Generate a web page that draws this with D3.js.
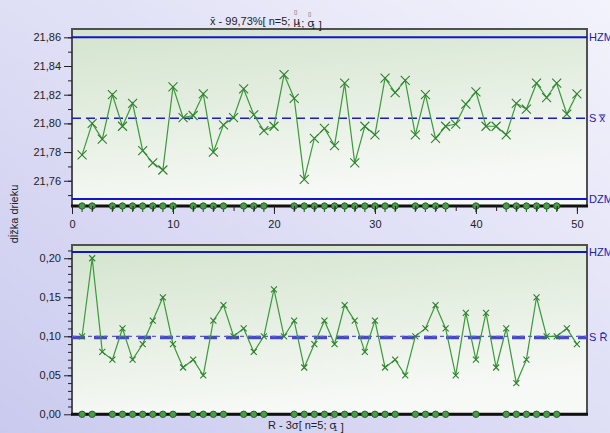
<!DOCTYPE html>
<html>

<head>
  <meta charset="utf8">
  <script src="https://d3js.org/d3.v7.min.js"></script>
  <style>
    body { margin: 0; }
    text { font-family: "Liberation Sans", Arial, sans-serif; }
    .axis text { fill: #222; font-size: 11px; }
    .axis path { display: none; }
    .axis line { stroke: #222; }
  </style>
</head>

<body>
  <svg id="chart" width="610" height="433"></svg>
  <script>
    // sample means (x-bar chart)
    var xbar = [21.778, 21.800, 21.789, 21.820, 21.798, 21.814, 21.781, 21.7725, 21.7675, 21.8255,
      21.804, 21.8055, 21.8205, 21.780, 21.799, 21.804, 21.824, 21.806, 21.795, 21.798,
      21.834, 21.8175, 21.761, 21.7895, 21.7965, 21.7845, 21.828, 21.7725, 21.798, 21.792,
      21.8315, 21.8215, 21.830, 21.792, 21.820, 21.7895, 21.798, 21.7995, 21.8135, 21.822,
      21.798, 21.798, 21.792, 21.814, 21.810, 21.828, 21.818, 21.828, 21.8065, 21.8205];
    // sample ranges (R chart)
    var range = [0.10, 0.20, 0.08, 0.07, 0.11, 0.07, 0.09, 0.12, 0.15, 0.09,
      0.06, 0.07, 0.05, 0.12, 0.14, 0.10, 0.11, 0.08, 0.10, 0.16,
      0.10, 0.12, 0.06, 0.09, 0.12, 0.09, 0.14, 0.12, 0.08, 0.12,
      0.06, 0.07, 0.05, 0.10, 0.11, 0.14, 0.11, 0.05, 0.13, 0.07,
      0.13, 0.06, 0.11, 0.04, 0.07, 0.15, 0.10, 0.10, 0.11, 0.09];
    // samples flagged with a dot on the axis
    var flagged = [1, 2, 4, 5, 6, 7, 8, 9, 10, 12, 13, 14, 15, 17, 18, 19, 22, 23, 24, 25,
      26, 27, 28, 29, 30, 31, 32, 34, 35, 36, 37, 40, 43, 44, 45, 46, 47, 48];
    // control limits
    var xbarLimits = { hzm: 21.860, s: 21.8035, dzm: 21.7472 };
    var rLimits = { hzm: 0.208, s: 0.0985, sDot: 0.100 };
    var xbarTicks = [21.76, 21.78, 21.80, 21.82, 21.84, 21.86];
    var rTicks = [0.00, 0.05, 0.10, 0.15, 0.20];
    var xTicks = [0, 10, 20, 30, 40, 50];

    var chart = d3.select('#chart');
    var left = 72, right = 587;
    var fmt = d3.formatLocale({ decimal: ',', thousands: ' ', grouping: [3], currency: ['', ''] }).format('.2f');

    var defs = chart.append('defs');
    var bg = defs.append('linearGradient').attr('id', 'bg')
      .attr('x1', 0).attr('y1', 1).attr('x2', 1).attr('y2', 0);
    bg.append('stop').attr('offset', 0).attr('stop-color', '#cacaef');
    bg.append('stop').attr('offset', 1).attr('stop-color', '#f3f3fc');
    var pg = defs.append('linearGradient').attr('id', 'plotbg')
      .attr('x1', 0).attr('y1', 0).attr('x2', 0.3).attr('y2', 1);
    pg.append('stop').attr('offset', 0).attr('stop-color', '#d3e4cd');
    pg.append('stop').attr('offset', 1).attr('stop-color', '#f7f9f6');

    chart.append('rect').attr('width', 610).attr('height', 433).attr('fill', 'url(#bg)');

    var x = d3.scaleLinear().domain([0, 51]).range([left, right]);

    function panel(opts) {
      var y = d3.scaleLinear().domain(opts.domain).range([opts.bottom, opts.top]);
      var g = chart.append('g');

      g.append('rect')
        .attr('x', left).attr('y', opts.top)
        .attr('width', right - left).attr('height', opts.bottom - opts.top)
        .attr('fill', 'url(#plotbg)')
        .attr('stroke', '#505050').attr('stroke-width', 2);

      // minor y ticks
      g.append('g').attr('class', 'axis')
        .attr('transform', 'translate(' + left + ',0)')
        .call(d3.axisLeft(y).tickValues(d3.range(opts.minorFrom, opts.domain[1], opts.minorStep)).tickSize(4).tickFormat(''));
      g.append('g').attr('class', 'axis')
        .attr('transform', 'translate(' + left + ',0)')
        .call(d3.axisLeft(y).tickValues(opts.ticks).tickSize(8).tickPadding(3).tickFormat(fmt));

      // control limits
      g.append('line').attr('x1', left).attr('x2', right)
        .attr('y1', y(opts.limits.hzm)).attr('y2', y(opts.limits.hzm))
        .attr('stroke', '#1414c8').attr('stroke-width', 2);
      if (opts.limits.dzm !== undefined) {
        g.append('line').attr('x1', left).attr('x2', right)
          .attr('y1', y(opts.limits.dzm)).attr('y2', y(opts.limits.dzm))
          .attr('stroke', '#1414c8').attr('stroke-width', 2);
      }
      if (opts.limits.sDot !== undefined) {
        g.append('line').attr('x1', left).attr('x2', right)
          .attr('y1', y(opts.limits.s)).attr('y2', y(opts.limits.s))
          .attr('stroke', '#4848c0').attr('stroke-width', 3.5).attr('stroke-dasharray', '13,9');
        g.append('line').attr('x1', left).attr('x2', right)
          .attr('y1', y(opts.limits.sDot)).attr('y2', y(opts.limits.sDot))
          .attr('stroke', '#5a5ae0').attr('stroke-width', 1.2).attr('stroke-dasharray', '4,4');
      } else {
        g.append('line').attr('x1', left).attr('x2', right)
          .attr('y1', y(opts.limits.s)).attr('y2', y(opts.limits.s))
          .attr('stroke', '#1c1cc0').attr('stroke-width', 1.5).attr('stroke-dasharray', '9,5');
      }

      // bottom axis line
      g.append('line').attr('x1', left - 1).attr('x2', right + 1)
        .attr('y1', opts.bottom).attr('y2', opts.bottom)
        .attr('stroke', '#111').attr('stroke-width', 3);

      // series
      var pts = opts.values.map((v, i) => [i + 1, v]);
      g.append('path').datum(pts)
        .attr('fill', 'none').attr('stroke', '#3a9a3a').attr('stroke-width', 1.2)
        .attr('d', d3.line().x((d) => x(d[0])).y((d) => y(d[1])));
      var s = opts.cross;
      g.selectAll('.mk').data(pts).enter().append('path')
        .attr('class', 'mk')
        .attr('transform', (d) => 'translate(' + x(d[0]) + ',' + y(d[1]) + ')')
        .attr('d', 'M' + -s + ',' + -s + 'L' + s + ',' + s + 'M' + -s + ',' + s + 'L' + s + ',' + -s)
        .attr('stroke', '#2f7f2f').attr('stroke-width', 1.1);

      // flagged samples on the axis
      var dots = g.selectAll('.dot').data(flagged).enter().append('g')
        .attr('transform', (d) => 'translate(' + x(d) + ',' + opts.bottom + ')');
      if (opts.stems) {
        dots.append('line').attr('y1', 0).attr('y2', 6).attr('stroke', '#2a6a2a').attr('stroke-width', 1.2);
      }
      dots.append('circle').attr('r', 3.2)
        .attr('fill', '#4a9c4a').attr('stroke', '#256325').attr('stroke-width', 1);

      // right labels
      var lab = g.append('g').attr('fill', '#2020b8').style('font-size', '11px');
      lab.append('text').attr('x', right + 2).attr('y', y(opts.limits.hzm) + 4).text('HZM');
      lab.append('text').attr('x', right + 2).attr('y', y(opts.limits.s) + 4).text(opts.sLabel);
      if (opts.limits.dzm !== undefined) {
        lab.append('text').attr('x', right + 2).attr('y', y(opts.limits.dzm) + 4).text('DZM');
      }
      return y;
    }

    panel({
      top: 29, bottom: 206, domain: [21.7424, 21.8658],
      ticks: xbarTicks, minorFrom: 21.75, minorStep: 0.01,
      limits: xbarLimits, values: xbar, cross: 4.5, stems: true,
      sLabel: 'S  x\u033F'
    });
    panel({
      top: 245, bottom: 414.3, domain: [0, 0.217],
      ticks: rTicks, minorFrom: 0.01, minorStep: 0.01,
      limits: rLimits, values: range, cross: 3, stems: false,
      sLabel: 'S  R\u0304'
    });

    // x axis of the upper panel
    chart.append('g').attr('class', 'axis')
      .attr('transform', 'translate(0,206)')
      .call(d3.axisBottom(x).tickValues(d3.range(0, 51, 2)).tickSize(5).tickFormat(''));
    chart.append('g').attr('class', 'axis')
      .attr('transform', 'translate(0,206)')
      .call(d3.axisBottom(x).tickValues(xTicks).tickSize(8).tickPadding(6).tickFormat(d3.format('d')));

    // titles (hat marks drawn as small boxes above the symbols)
    function symbolWithHat(t, sym) {
      t.append('tspan').text(sym);
      t.append('tspan').attr('dx', -6).attr('dy', -11).style('font-size', '6px').attr('fill', '#444').text('\u25af');
      t.append('tspan').attr('dx', 0).attr('dy', 13).style('font-size', '8px').text('1');
      t.append('tspan').attr('dy', -2).text('');
    }
    var t1 = chart.append('text').attr('x', 210).attr('y', 25).style('font-size', '11px').attr('fill', '#222');
    t1.append('tspan').text('x\u0304 -  99,73%[ n=5; ');
    symbolWithHat(t1, '\u03bc');
    t1.append('tspan').text('; ');
    symbolWithHat(t1, '\u03c3');
    t1.append('tspan').text(' ]');

    var t2 = chart.append('text').attr('x', 268).attr('y', 429).style('font-size', '11px').attr('fill', '#222');
    t2.append('tspan').text('R -  3\u03c3[ n=5; ');
    symbolWithHat(t2, '\u03c3');
    t2.append('tspan').text(' ]');

    chart.append('text')
      .attr('transform', 'translate(18,214) rotate(-90)')
      .attr('text-anchor', 'middle')
      .style('font-size', '11px').attr('fill', '#222')
      .text('dĺžka drieku');
  </script>
</body>

</html>
